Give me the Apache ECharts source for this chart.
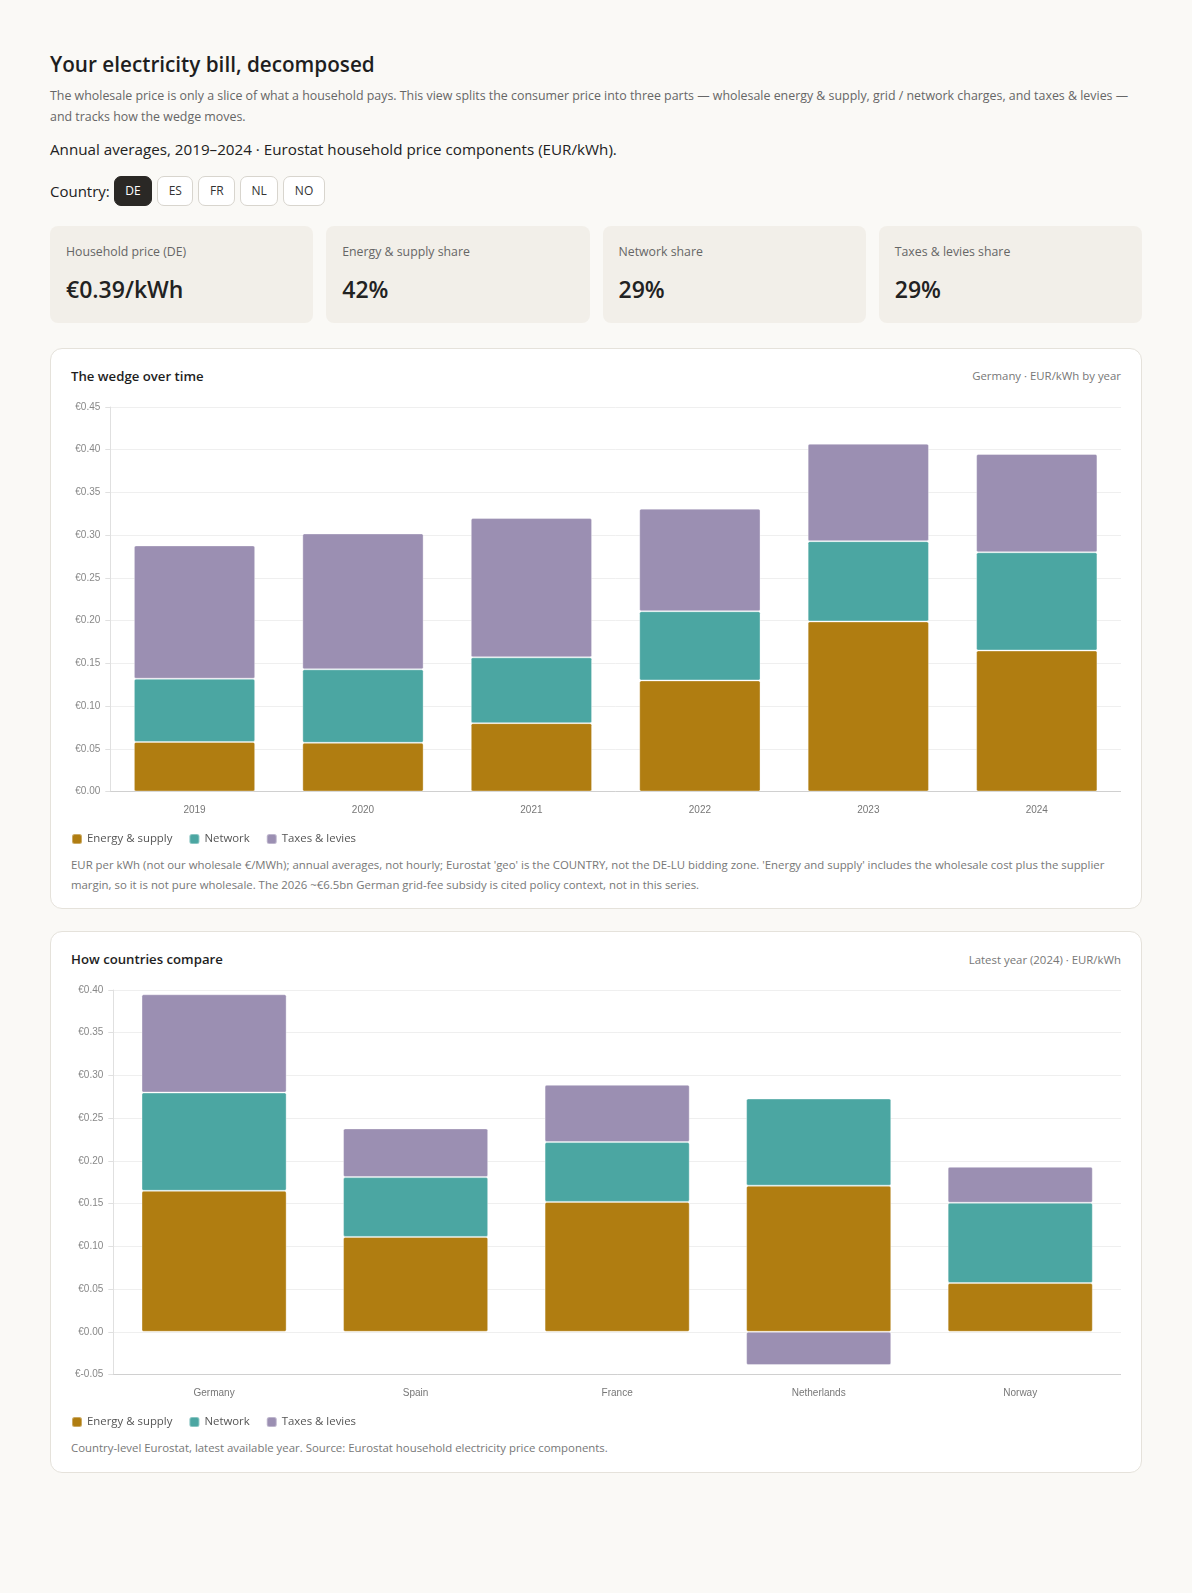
<!DOCTYPE html>
<html>
<head>
<meta charset="utf-8">
<script src="https://cdn.jsdelivr.net/npm/echarts@6/dist/echarts.min.js"></script>
<style>
*{box-sizing:border-box}
html,body{margin:0;padding:0;background:#faf9f6;font-family:'Open Sans',sans-serif;color:#222}
.wrap{position:relative;width:1092px;margin-left:50px;padding-top:52px}
h1{margin:0;font-size:20.7px;line-height:24px;font-weight:600;color:#1e1e1e}
.desc{margin:10px 0 0;font-size:12.4px;line-height:20.5px;color:#666}
.sub{margin:11.5px 0 0;font-size:15.2px;line-height:20px;color:#222}
.ctrl{margin-top:17px;height:30px;display:flex;align-items:center;font-size:15px}
.ctrl .lbl{margin-right:4px}
.btn{height:30px;padding:0 10.5px;border:1px solid #d8d5ce;border-radius:7px;background:#fff;font-size:12px;line-height:28px;margin-right:5px;color:#333}
.btn.on{background:#2a2825;border-color:#2a2825;color:#fff}
.kpis{margin-top:20px;display:flex;gap:13px}
.kpi{flex:1;height:97px;background:#f2efe9;border-radius:8px;padding:17.6px 16px 0}
.kpi .l{font-size:12.3px;line-height:18px;color:#666}
.kpi .v{margin-top:13.7px;font-size:23px;line-height:28px;font-weight:600;color:#222}
.card{background:#fff;border:1px solid #e5e2db;border-radius:12px;padding:18px 20px 13px;margin-top:25.3px}
.card + .card{margin-top:22px}
.card-h{display:flex;justify-content:space-between;align-items:center;height:18px}
.card-h .t{font-size:13.2px;font-weight:600;color:#1e1e1e}
.card-h .n{font-size:11.4px;color:#777}
.chart{width:1050px;height:460px;margin-top:10px}
.note{font-size:11.4px;line-height:20.3px;color:#777}
</style>
</head>
<body>
<div class="wrap">
  <h1>Your electricity bill, decomposed</h1>
  <p class="desc">The wholesale price is only a slice of what a household pays. This view splits the consumer price into three parts — wholesale energy &amp; supply, grid / network charges, and taxes &amp; levies — and tracks how the wedge moves.</p>
  <p class="sub">Annual averages, 2019–2024 · Eurostat household price components (EUR/kWh).</p>
  <div class="ctrl"><span class="lbl">Country:</span>
    <span class="btn on">DE</span><span class="btn">ES</span><span class="btn">FR</span><span class="btn">NL</span><span class="btn">NO</span>
  </div>
  <div class="kpis">
    <div class="kpi"><div class="l">Household price (DE)</div><div class="v">€0.39/kWh</div></div>
    <div class="kpi"><div class="l">Energy &amp; supply share</div><div class="v">42%</div></div>
    <div class="kpi"><div class="l">Network share</div><div class="v">29%</div></div>
    <div class="kpi"><div class="l">Taxes &amp; levies share</div><div class="v">29%</div></div>
  </div>
  <div class="card">
    <div class="card-h"><span class="t">The wedge over time</span><span class="n">Germany · EUR/kWh by year</span></div>
    <div class="chart" id="c1"></div>
    <div class="note">EUR per kWh (not our wholesale €/MWh); annual averages, not hourly; Eurostat 'geo' is the COUNTRY, not the DE-LU bidding zone. 'Energy and supply' includes the wholesale cost plus the supplier margin, so it is not pure wholesale. The 2026 ~€6.5bn German grid-fee subsidy is cited policy context, not in this series.</div>
  </div>
  <div class="card">
    <div class="card-h"><span class="t">How countries compare</span><span class="n">Latest year (2024) · EUR/kWh</span></div>
    <div class="chart" id="c2"></div>
    <div class="note">Country-level Eurostat, latest available year. Source: Eurostat household electricity price components.</div>
  </div>
</div>
<script>
// ---- data ----
var years = ['2019', '2020', '2021', '2022', '2023', '2024'];
var deEnergy  = [0.058, 0.057, 0.080, 0.130, 0.199, 0.165];
var deNetwork = [0.074, 0.086, 0.077, 0.081, 0.094, 0.115];
var deTaxes   = [0.156, 0.159, 0.163, 0.120, 0.114, 0.115];

var countries = ['Germany', 'Spain', 'France', 'Netherlands', 'Norway'];
var cEnergy  = [0.165, 0.111, 0.152, 0.171, 0.057];
var cNetwork = [0.115, 0.070, 0.070, 0.102, 0.094];
var cTaxes   = [0.115, 0.057, 0.067, -0.039, 0.042];

var seriesNames = ['Energy & supply', 'Network', 'Taxes & levies'];
var seriesColors = ['#b07d11', '#4ba6a2', '#9b8fb2'];

function buildOption(cats, vals, yMin, yMax, gridLeft) {
  return {
    animation: false,
    textStyle: { fontFamily: 'Open Sans' },
    grid: { left: gridLeft, right: 0, top: 12, height: 384.5 },
    legend: {
      left: 0, top: 438, padding: 0, itemWidth: 10, itemHeight: 10, itemGap: 16,
      icon: 'roundRect',
      textStyle: { fontFamily: 'Open Sans', fontSize: 11.4, color: '#555' },
      data: seriesNames
    },
    xAxis: {
      type: 'category', data: cats,
      axisLine: { onZero: false, lineStyle: { color: '#d0d0d0' } },
      axisTick: { show: false },
      axisLabel: { fontFamily: 'Liberation Sans', fontSize: 10, color: '#777', margin: 13.5 }
    },
    yAxis: {
      type: 'value', min: yMin, max: yMax, interval: 0.05,
      axisLine: { show: true, lineStyle: { color: '#e0e0e0' } },
      axisTick: { show: true, length: 5, lineStyle: { color: '#e0e0e0' } },
      splitLine: { lineStyle: { color: '#efefef' } },
      axisLabel: {
        fontFamily: 'Liberation Sans', fontSize: 10, color: '#888', margin: 10,
        formatter: function (v) { return '€' + v.toFixed(2); }
      }
    },
    series: vals.map(function (d, i) {
      return {
        name: seriesNames[i], type: 'bar', stack: 'total', barWidth: '72%', data: d,
        itemStyle: { color: seriesColors[i], borderColor: 'rgba(255,255,255,0.35)', borderWidth: 1, borderRadius: 1.5 }
      };
    })
  };
}

var c1 = echarts.init(document.getElementById('c1'));
c1.setOption(buildOption(years, [deEnergy, deNetwork, deTaxes], 0, 0.45, 39.3));
var c2 = echarts.init(document.getElementById('c2'));
c2.setOption(buildOption(countries, [cEnergy, cNetwork, cTaxes], -0.05, 0.40, 42.3));
</script>
</body>
</html>
